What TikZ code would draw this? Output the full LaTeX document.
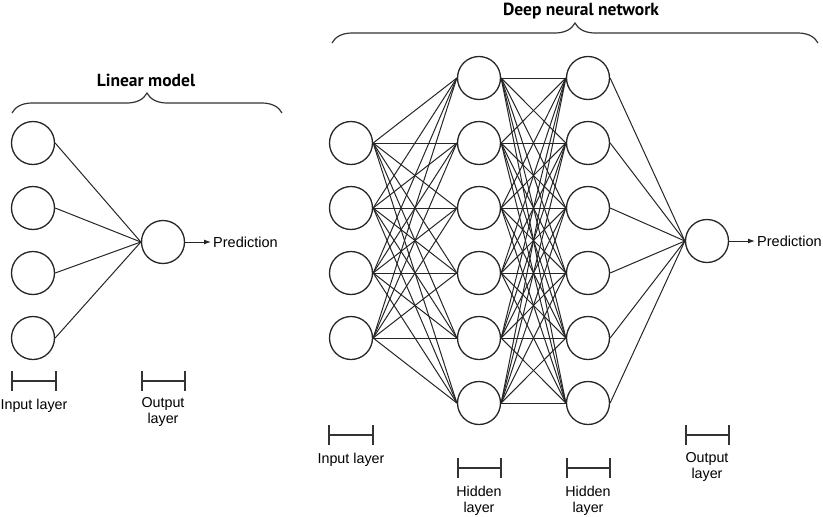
\documentclass[tikz,border=0pt]{standalone}
\usepackage{fontspec}
\setmainfont{Liberation Sans}
\newfontfamily\headfont{PT Sans}
\usetikzlibrary{arrows.meta,decorations.pathreplacing}

\tikzset{
  neuron/.style={circle, draw=black!85, line width=1.3pt, minimum size=43pt, inner sep=0pt},
  link/.style={draw=black!85, line width=1pt},
  outarrow/.style={draw=black!85, line width=1pt, -{Latex[length=7pt,width=5pt]}},
  curly/.style={draw=black!80, line width=1.2pt, decorate, decoration={brace, amplitude=20pt}},
  heading/.style={font=\headfont\bfseries\fontsize{17.5}{20}\selectfont, anchor=base, inner sep=0pt},
  lbl/.style={font=\fontsize{14.3}{16}\selectfont, align=center, anchor=north, inner sep=0pt},
  pred/.style={font=\fontsize{14.5}{16}\selectfont, anchor=west, inner sep=2pt},
  spanline/.style={draw=black!80, line width=1.1pt},
}
% span bar under a layer: x1, x2, y of bar
\newcommand{\layerspan}[3]{%
  \draw[spanline] (#1,#3-10) -- (#1,#3+10) (#1,#3) -- (#2,#3) (#2,#3-10) -- (#2,#3+10);}

\begin{document}
\begin{tikzpicture}[x=1pt,y=-1pt]
  \useasboundingbox (0,0) rectangle (823,517);

  %linear model
  \foreach \i/\y in {1/143,2/208,3/273,4/338}
    \node[neuron] (lin\i) at (33,\y) {};
  \node[neuron] (linout) at (163,242) {};
  \foreach \i in {1,...,4}
    \draw[link] (lin\i.east) -- (linout.west);
  \node[pred] (linpred) at (211,242) {Prediction};
  \draw[outarrow] (linout.east) -- (linpred.west);

  \draw[curly] (12,113) -- (282,113);
  \node[heading] (lintitle) at (146,86) {Linear model};

  \layerspan{12}{56}{381}
  \layerspan{142}{185}{381}
  \node[lbl] (linin) at (34,398.5) {Input layer};
  \node[lbl] (linoutl) at (163,397.5) {Output\\layer};

  %deep network
  \foreach \i/\y in {1/143,2/208,3/273,4/338}
    \node[neuron] (in\i) at (351,\y) {};
  \foreach \i/\y in {1/78,2/143,3/208,4/273,5/338,6/403}
  {
    \node[neuron] (ha\i) at (479,\y) {};
    \node[neuron] (hb\i) at (588,\y) {};
  }
  \node[neuron] (out) at (707,241) {};

  \foreach \i in {1,...,4}
    \foreach \j in {1,...,6}
      \draw[link] (in\i.east) -- (ha\j.west);
  \foreach \i in {1,...,6}
  {
    \foreach \j in {1,...,6}
      \draw[link] (ha\i.east) -- (hb\j.west);
    \draw[link] (hb\i.east) -- (out.west);
  }
  \node[pred] (pred) at (755,241) {Prediction};
  \draw[outarrow] (out.east) -- (pred.west);

  \draw[curly] (332,43) -- (818,43);
  \node[heading] (title) at (581,15) {Deep neural network};

  \layerspan{329}{373}{435}
  \layerspan{458}{501}{468}
  \layerspan{567}{610}{468}
  \layerspan{686}{729}{435}
  \node[lbl] (inl) at (351,452.5) {Input layer};
  \node[lbl] (hal) at (479,486) {Hidden\\layer};
  \node[lbl] (hbl) at (588,486) {Hidden\\layer};
  \node[lbl] (outl) at (707,452) {Output\\layer};
\end{tikzpicture}
\end{document}
